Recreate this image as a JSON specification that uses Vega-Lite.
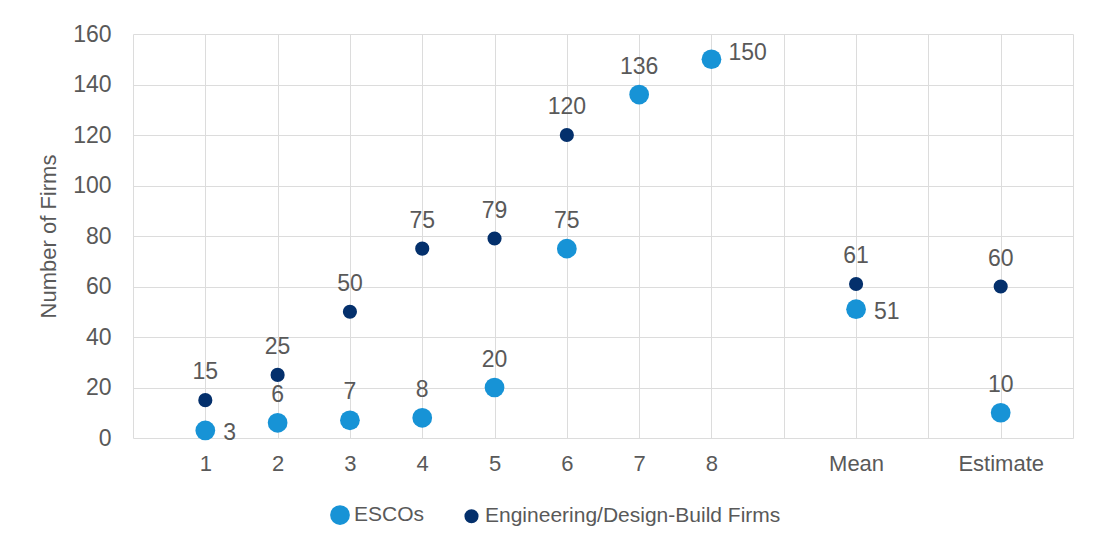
{
  "$schema": "https://vega.github.io/schema/vega-lite/v6.json",
  "autosize": {"type": "none"},
  "width": 940,
  "height": 404,
  "padding": {"left": 133, "top": 34, "right": 26, "bottom": 105},
  "background": "white",
  "config": {
    "font": "Liberation Sans",
    "view": {"stroke": null},
    "axis": {"labelColor": "#595959", "titleColor": "#595959", "gridColor": "#dcdcdc", "domain": false, "ticks": false}
  },
  "data": {"values": [
    {"pos": 1, "category": "1", "series": "ESCOs", "firms": 3},
    {"pos": 2, "category": "2", "series": "ESCOs", "firms": 6},
    {"pos": 3, "category": "3", "series": "ESCOs", "firms": 7},
    {"pos": 4, "category": "4", "series": "ESCOs", "firms": 8},
    {"pos": 5, "category": "5", "series": "ESCOs", "firms": 20},
    {"pos": 6, "category": "6", "series": "ESCOs", "firms": 75},
    {"pos": 7, "category": "7", "series": "ESCOs", "firms": 136},
    {"pos": 8, "category": "8", "series": "ESCOs", "firms": 150},
    {"pos": 10, "category": "Mean", "series": "ESCOs", "firms": 51},
    {"pos": 12, "category": "Estimate", "series": "ESCOs", "firms": 10},
    {"pos": 1, "category": "1", "series": "Engineering/Design-Build Firms", "firms": 15},
    {"pos": 2, "category": "2", "series": "Engineering/Design-Build Firms", "firms": 25},
    {"pos": 3, "category": "3", "series": "Engineering/Design-Build Firms", "firms": 50},
    {"pos": 4, "category": "4", "series": "Engineering/Design-Build Firms", "firms": 75},
    {"pos": 5, "category": "5", "series": "Engineering/Design-Build Firms", "firms": 79},
    {"pos": 6, "category": "6", "series": "Engineering/Design-Build Firms", "firms": 120},
    {"pos": 10, "category": "Mean", "series": "Engineering/Design-Build Firms", "firms": 61},
    {"pos": 12, "category": "Estimate", "series": "Engineering/Design-Build Firms", "firms": 60}
  ]},
  "encoding": {
    "x": {"field": "pos", "type": "quantitative", "scale": {"domain": [0, 13], "nice": false},
      "axis": {"title": null, "values": [0,1,2,3,4,5,6,7,8,9,10,11,12,13], "labelPadding": 15, "labelFontSize": 22,
        "labelExpr": "datum.value == 10 ? 'Mean' : datum.value == 12 ? 'Estimate' : (datum.value >= 1 && datum.value <= 8 ? datum.label : '')"}},
    "y": {"field": "firms", "type": "quantitative", "scale": {"domain": [0, 160], "nice": false},
      "axis": {"title": "Number of Firms", "values": [0,20,40,60,80,100,120,140,160], "labelPadding": 22, "labelFontSize": 23, "titleFontSize": 22, "titleFontWeight": "normal", "titlePadding": 12}}
  },
  "layer": [
    {
      "mark": {"type": "circle", "opacity": 1},
      "encoding": {
        "color": {"field": "series", "type": "nominal",
          "scale": {"domain": ["ESCOs", "Engineering/Design-Build Firms"], "range": ["#1793d6", "#04306c"]},
          "legend": {"title": null, "orient": "none", "direction": "horizontal", "legendX": 196, "legendY": 470,
            "labelFontSize": 21, "labelColor": "#595959", "labelOffset": 3, "labelLimit": 0, "columnPadding": 36, "symbolType": "circle", "symbolOpacity": 1}},
        "size": {"field": "series", "type": "nominal",
          "scale": {"domain": ["ESCOs", "Engineering/Design-Build Firms"], "range": [390, 200]},
          "legend": {"title": null, "orient": "none", "direction": "horizontal", "legendX": 196, "legendY": 470,
            "labelFontSize": 21, "labelColor": "#595959", "labelOffset": 3, "labelLimit": 0, "columnPadding": 36, "symbolType": "circle", "symbolOpacity": 1}}
      }
    },
    {
      "transform": [{"filter": "!(datum.series == 'ESCOs' && (datum.pos == 1 || datum.pos == 8 || datum.pos == 10))"}],
      "mark": {"type": "text", "dy": -28, "fontSize": 23, "color": "#595959", "baseline": "middle"},
      "encoding": {"text": {"field": "firms", "type": "quantitative"}}
    },
    {
      "transform": [{"filter": "datum.series == 'ESCOs' && (datum.pos == 1 || datum.pos == 10)"}],
      "mark": {"type": "text", "dx": 18, "dy": 3, "align": "left", "fontSize": 23, "color": "#595959", "baseline": "middle"},
      "encoding": {"text": {"field": "firms", "type": "quantitative"}}
    },
    {
      "transform": [{"filter": "datum.series == 'ESCOs' && datum.pos == 8"}],
      "mark": {"type": "text", "dx": 17, "dy": -6, "align": "left", "fontSize": 23, "color": "#595959", "baseline": "middle"},
      "encoding": {"text": {"field": "firms", "type": "quantitative"}}
    }
  ]
}
